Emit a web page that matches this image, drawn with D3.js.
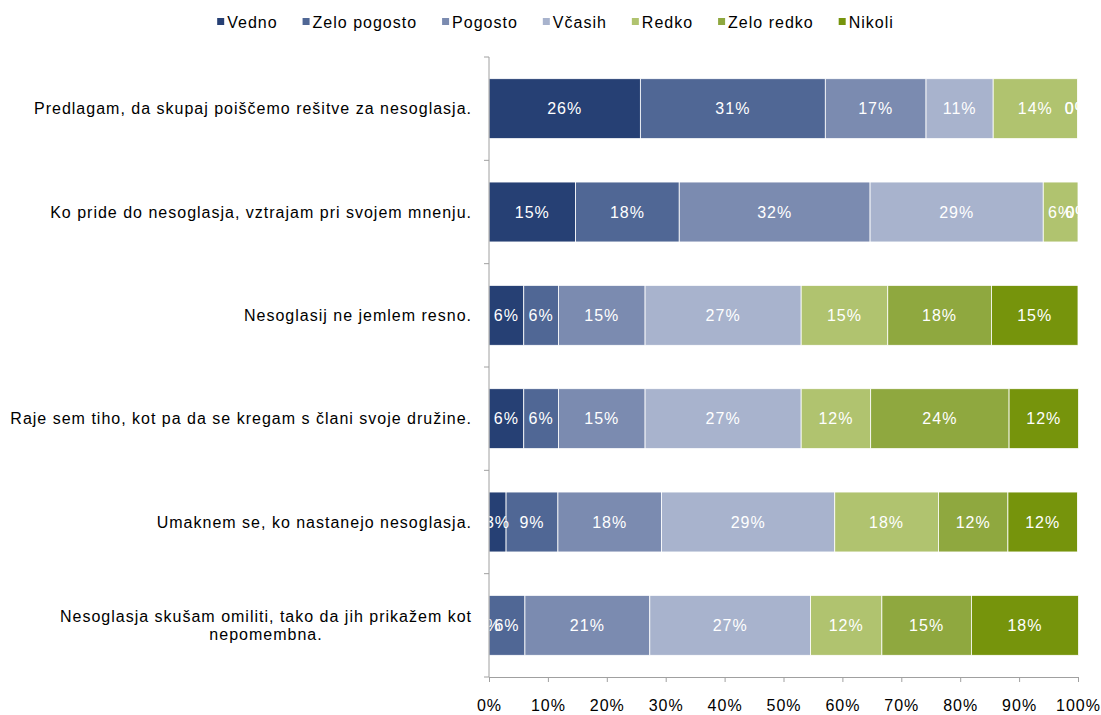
<!DOCTYPE html>
<html lang="sl">
<head>
<meta charset="utf-8">
<title>Nesoglasja</title>
<script src="https://cdn.jsdelivr.net/npm/d3@7/dist/d3.min.js"></script>
<style>
    body { margin: 0; background: #fff; }
    svg { font-family: "Liberation Sans", Arial, sans-serif; }
    svg text { font-size: 16px; letter-spacing: 1px; }
    .axis path, .axis line { stroke: #a0a0a0; }
    .axis text { fill: #000; font-size: 16px; }
</style>
</head>
<body>
<div id="chart"></div>
<script>
// categories (top to bottom)
const statements = [
    "Predlagam, da skupaj poiščemo rešitve za nesoglasja.",
    "Ko pride do nesoglasja, vztrajam pri svojem mnenju.",
    "Nesoglasij ne jemlem resno.",
    "Raje sem tiho, kot pa da se kregam s člani svoje družine.",
    "Umaknem se, ko nastanejo nesoglasja.",
    "Nesoglasja skušam omiliti, tako da jih prikažem kot nepomembna."
];
const answers = ["Vedno", "Zelo pogosto", "Pogosto", "Včasih", "Redko", "Zelo redko", "Nikoli"];
const colors = ["#264074", "#506795", "#7b8bb0", "#a8b3cd", "#b0c36f", "#8fa83f", "#76940c"];

// shares in % per statement, in the order of answers
const vedno       = [25.7, 14.7,  5.9,  5.9,  2.9,  0.0];
const zeloPogosto = [31.4, 17.6,  5.9,  5.9,  8.8,  6.1];
const pogosto     = [17.1, 32.4, 14.7, 14.7, 17.6, 21.2];
const vcasih      = [11.4, 29.4, 26.5, 26.5, 29.4, 27.3];
const redko       = [14.3,  5.9, 14.7, 11.8, 17.6, 12.1];
const zeloRedko   = [ 0.0,  0.0, 17.6, 23.5, 11.8, 15.2];
const nikoli      = [ 0.0,  0.0, 14.7, 11.8, 11.8, 18.2];
const xTicks = [0, 10, 20, 30, 40, 50, 60, 70, 80, 90, 100];

const series = [vedno, zeloPogosto, pogosto, vcasih, redko, zeloRedko, nikoli];
const rows = statements.map((s, i) => {
    const r = {statement: s};
    answers.forEach((a, j) => r[a] = series[j][i]);
    return r;
});

const width = 1101, height = 715;
const margin = {top: 57, right: 23, bottom: 38, left: 489};

const svg = d3.select("#chart").append("svg")
    .attr("width", width)
    .attr("height", height);

const x = d3.scaleLinear().domain([0, 100]).range([margin.left, width - margin.right]);
const y = d3.scaleBand().domain(statements)
    .range([margin.top, height - margin.bottom])
    .paddingInner(0.42).paddingOuter(0.21);

const stack = d3.stack().keys(answers)(rows);

svg.append("clipPath").attr("id", "plot-clip")
    .append("rect")
    .attr("x", x(0)).attr("y", margin.top)
    .attr("width", x(100) - x(0)).attr("height", height - margin.bottom - margin.top);

const layers = svg.append("g").selectAll("g")
    .data(stack)
    .join("g")
    .attr("fill", (d, i) => colors[i]);

layers.selectAll("rect")
    .data(d => d)
    .join("rect")
    .attr("x", d => x(d[0]))
    .attr("y", d => y(d.data.statement))
    .attr("width", d => x(d[1]) - x(d[0]))
    .attr("height", y.bandwidth())
    .attr("stroke", "#fff")
    .attr("stroke-width", 0.8);

// value labels (clipped to the plot like the original)
const labels = svg.append("g").attr("clip-path", "url(#plot-clip)");
stack.forEach(layer => {
    labels.selectAll(null)
        .data(layer)
        .join("text")
        .attr("x", d => x((d[0] + d[1]) / 2))
        .attr("y", d => y(d.data.statement) + y.bandwidth() / 2)
        .attr("dy", "0.35em")
        .attr("text-anchor", "middle")
        .attr("fill", "#fff")
        .text(d => Math.round(d[1] - d[0]) + "%");
});

// axes
svg.append("g")
    .attr("class", "axis")
    .attr("transform", `translate(0,${height - margin.bottom})`)
    .call(d3.axisBottom(x).tickValues(xTicks).tickFormat(d => d + "%").tickSize(5).tickSizeOuter(5).tickPadding(18));

const yAxis = svg.append("g")
    .attr("class", "axis")
    .attr("transform", `translate(${margin.left},0)`);
yAxis.append("line")
    .attr("x1", 0).attr("x2", 0)
    .attr("y1", margin.top).attr("y2", height - margin.bottom);
d3.range(statements.length + 1).forEach(i => {
    const yy = margin.top + i * (height - margin.bottom - margin.top) / statements.length;
    yAxis.append("line").attr("x1", -5).attr("x2", 0).attr("y1", yy).attr("y2", yy);
});

// category labels, wrapped when too long
const catG = svg.append("g");
statements.forEach(s => {
    const cy = y(s) + y.bandwidth() / 2;
    const t = catG.append("text").attr("text-anchor", "end").attr("fill", "#000");
    t.text(s).attr("x", 472).attr("y", cy).attr("dy", "0.35em");
    if (t.node().getComputedTextLength() > 480) {
        t.text(null);
        const words = s.split(" ");
        const lines = [words.slice(0, -1).join(" "), words[words.length - 1]];
        const tmp = catG.append("text").text(lines[0]);
        const w = tmp.node().getComputedTextLength();
        tmp.remove();
        t.attr("text-anchor", "middle");
        lines.forEach((ln, k) => {
            t.append("tspan")
                .attr("x", 472 - w / 2)
                .attr("y", cy + (k - 0.5) * 18)
                .attr("dy", "0.35em")
                .text(ln);
        });
    }
});

// legend
const legend = svg.append("g");
const gap = 25;
let lx = 0;
answers.forEach((a, i) => {
    const item = legend.append("g").attr("transform", `translate(${lx},0)`);
    item.append("rect").attr("x", 0).attr("y", -4).attr("width", 7).attr("height", 7).attr("fill", colors[i]);
    const tx = item.append("text").attr("x", 10).attr("dy", "0.35em").attr("fill", "#000").text(a);
    lx += 10 + tx.node().getComputedTextLength() + gap;
});
legend.attr("transform", `translate(${(width - (lx - gap)) / 2 + 5},22)`);
</script>
</body>
</html>
